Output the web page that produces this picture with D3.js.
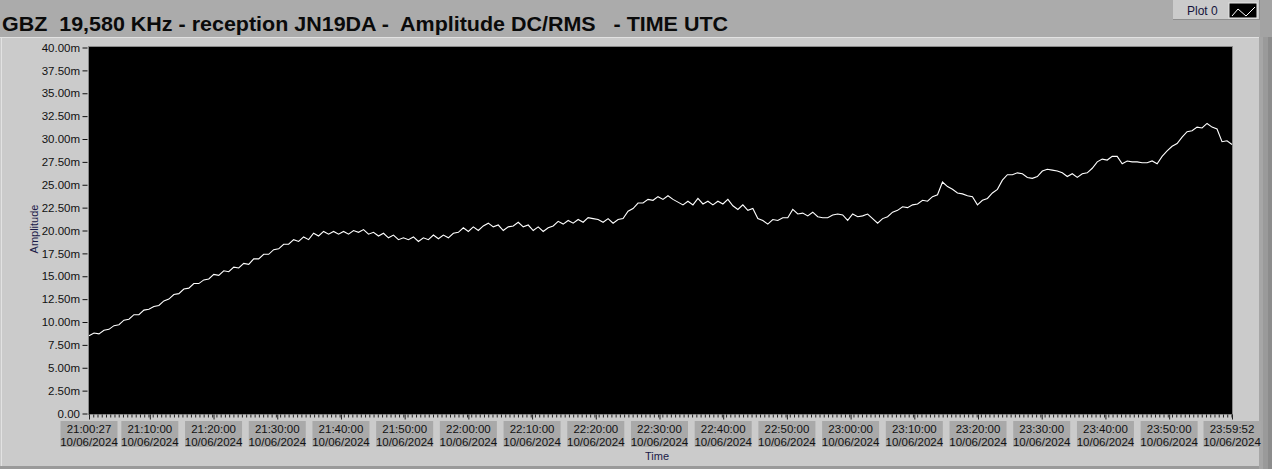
<!DOCTYPE html>
<html>
<head>
<meta charset="utf-8">
<script src="https://cdn.jsdelivr.net/npm/d3@7"></script>
<style>
  html, body { margin: 0; padding: 0; background: #ababab; }
  svg { display: block; }
</style>
</head>
<body>
<svg id="chart" width="1272" height="469"></svg>
<script>
// ---------------- DATA ----------------
const titleText = "GBZ  19,580 KHz - reception JN19DA -  Amplitude DC/RMS   - TIME UTC";
const legendLabel = "Plot 0";
const yAxisTitle = "Amplitude";
const xAxisTitle = "Time";
const startStamp = "2024-06-10T21:00:27";
const endStamp = "2024-06-10T23:59:52";
const dateLabel = "10/06/2024";
const xTickLabels = ["21:00:27","21:10:00","21:20:00","21:30:00","21:40:00","21:50:00",
  "22:00:00","22:10:00","22:20:00","22:30:00","22:40:00","22:50:00",
  "23:00:00","23:10:00","23:20:00","23:30:00","23:40:00","23:50:00","23:59:52"];
const yTickValues = [0,2.5,5,7.5,10,12.5,15,17.5,20,22.5,25,27.5,30,32.5,35,37.5,40];
// amplitude (mV) — evenly sampled from start to end
const amplitude = [
  8.5,8.8,8.7,9.1,9.2,9.6,9.7,10.2,10.3,10.8,10.8,11.3,11.4,11.7,11.8,12.3,12.5,13.0,13.1,13.6,
  13.7,14.2,14.2,14.6,14.7,15.2,15.1,15.6,15.5,16.0,15.9,16.4,16.3,16.9,16.9,17.4,17.4,17.9,18.0,18.5,
  18.5,19.0,18.8,19.3,19.0,19.7,19.4,19.9,19.6,19.9,19.6,19.9,19.6,20.0,19.8,20.1,19.6,19.8,19.4,19.7,
  19.2,19.5,19.0,19.2,19.0,19.3,18.8,19.2,19.0,19.5,19.1,19.5,19.2,19.7,19.8,20.3,19.9,20.4,20.0,20.5,
  20.8,20.4,20.6,20.0,20.4,20.5,20.9,20.4,20.6,20.0,20.4,19.9,20.3,20.5,21.0,20.7,21.1,20.8,21.2,20.9,
  21.4,21.3,21.2,20.9,21.3,20.8,21.2,21.3,22.1,22.4,23.0,23.0,23.4,23.3,23.7,23.4,23.8,23.4,23.1,22.8,
  23.2,22.8,23.5,22.9,23.2,22.8,23.2,22.9,23.4,22.7,22.3,22.8,22.2,22.4,21.3,21.1,20.7,21.2,21.1,21.4,
  21.4,22.3,21.8,21.9,21.6,22.0,21.5,21.4,21.4,21.7,21.8,21.7,21.1,21.8,21.5,21.6,21.8,21.3,20.8,21.3,
  21.5,22.0,22.2,22.6,22.5,22.8,22.9,23.3,23.2,23.7,23.9,25.3,24.8,24.5,24.1,24.0,23.8,23.7,22.8,23.3,
  23.5,24.1,24.5,25.5,26.1,26.1,26.3,26.2,25.8,25.7,25.9,26.5,26.7,26.6,26.5,26.3,25.9,26.2,25.8,26.2,
  26.3,26.8,27.5,27.8,27.7,28.1,28.1,27.3,27.6,27.5,27.5,27.4,27.4,27.6,27.3,28.1,28.7,29.2,29.5,30.2,
  30.8,30.9,31.3,31.2,31.7,31.3,31.1,29.7,29.8,29.4
];

// ---------------- LAYOUT ----------------
const W = 1272, H = 469;
const plot = { left: 89, right: 1232, top: 47, bottom: 414 };
const svg = d3.select("#chart");
const fontAxis = "'Liberation Sans', Arial, sans-serif";

const parse = d3.timeParse("%Y-%m-%dT%H:%M:%S");
const t0 = parse(startStamp), t1 = parse(endStamp);
const totalMs = t1 - t0;
const dtMs = totalMs / (amplitude.length - 1);
const series = amplitude.map((v, i) => ({ t: new Date(+t0 + i * dtMs), v }));

const x = d3.scaleTime().domain([t0, t1]).range([plot.left, plot.right]);
const y = d3.scaleLinear().domain([0, 40]).range([plot.bottom - 0.5, plot.top + 0.5]);

// backgrounds
svg.append("rect").attr("x", 0).attr("y", 0).attr("width", W).attr("height", H).attr("fill", "#ababab");
svg.append("rect").attr("x", 0).attr("y", 37).attr("width", 1259).attr("height", 429).attr("fill", "#cbcbcb");
svg.append("line").attr("x1", 0).attr("x2", 1259).attr("y1", 37.5).attr("y2", 37.5).attr("stroke", "#e2e2e2");
svg.append("line").attr("x1", 1.5).attr("x2", 1.5).attr("y1", 37).attr("y2", 466).attr("stroke", "#e2e2e2");
// right edge strips
svg.append("rect").attr("x", 1259).attr("y", 37).attr("width", 4).attr("height", 432).attr("fill", "#a6a6a6");
svg.append("rect").attr("x", 1263).attr("y", 37).attr("width", 5).attr("height", 432).attr("fill", "#9a9a9a");
svg.append("rect").attr("x", 1268).attr("y", 37).attr("width", 4).attr("height", 432).attr("fill", "#8c8c8c");
svg.append("rect").attr("x", 0).attr("y", 466).attr("width", 1259).attr("height", 3).attr("fill", "#9a9a9a");

// title
svg.append("text")
  .attr("x", 2).attr("y", 31)
  .attr("textLength", 726).attr("lengthAdjust", "spacingAndGlyphs")
  .style("white-space", "pre")
  .attr("font-family", "'Liberation Sans', Arial, sans-serif")
  .attr("font-weight", "bold").attr("font-size", 19.5)
  .attr("fill", "#0a0a0a")
  .text(titleText);

// legend
const lg = svg.append("g");
lg.append("rect").attr("x", 1173).attr("y", 0).attr("width", 87).attr("height", 20).attr("fill", "#cbcbcb");
lg.append("line").attr("x1", 1173).attr("x2", 1260).attr("y1", 19.5).attr("y2", 19.5).attr("stroke", "#8e8e8e");
lg.append("line").attr("x1", 1259.5).attr("x2", 1259.5).attr("y1", 0).attr("y2", 20).attr("stroke", "#8e8e8e");
lg.append("rect").attr("x", 1260).attr("y", 0).attr("width", 12).attr("height", 37).attr("fill", "#a3a3a3");
lg.append("text").attr("x", 1187).attr("y", 14.5)
  .attr("font-family", fontAxis).attr("font-size", 12).attr("fill", "#14143c").text(legendLabel);
lg.append("rect").attr("x", 1229).attr("y", 3).attr("width", 28).attr("height", 15)
  .attr("fill", "#000").attr("stroke", "#e8e8e8").attr("stroke-width", 1);
lg.append("path").attr("d", d3.line()([[1232, 16], [1238, 9], [1246, 16], [1255, 7]]))
  .attr("fill", "none").attr("stroke", "#fff").attr("stroke-width", 1);

// plot area
svg.append("rect").attr("x", plot.left).attr("y", plot.top)
  .attr("width", plot.right - plot.left).attr("height", plot.bottom - plot.top)
  .attr("fill", "#000");
svg.append("rect").attr("x", plot.left - 0.5).attr("y", plot.top - 0.5)
  .attr("width", plot.right - plot.left + 1).attr("height", plot.bottom - plot.top + 1)
  .attr("fill", "none").attr("stroke", "#8a8a8a");

// line
svg.append("path").datum(series)
  .attr("d", d3.line().x(d => x(d.t)).y(d => y(d.v)))
  .attr("fill", "none").attr("stroke", "#ffffff").attr("stroke-width", 1.1)
  .attr("stroke-linejoin", "miter");

// y axis
const yAxis = d3.axisLeft(y).tickValues(yTickValues).tickSize(5).tickPadding(2.5)
  .tickFormat(d => d === 0 ? "0.00" : d3.format(".2f")(d) + "m");
const gy = svg.append("g").attr("transform", "translate(87.5,0)").call(yAxis);
gy.select(".domain").remove();
gy.selectAll(".tick line").attr("stroke", "#111");
gy.selectAll(".tick text").attr("font-family", fontAxis).attr("font-size", 11.5).attr("fill", "#111");

svg.append("text")
  .attr("transform", "translate(38,229) rotate(-90)")
  .attr("text-anchor", "middle")
  .attr("font-family", fontAxis).attr("font-size", 11).attr("fill", "#1a1a48")
  .text(yAxisTitle);

// x axis: minor ticks
const minorTimes = d3.range(0, totalMs + 1, 40000).map(ms => new Date(+t0 + ms));
const gxMinor = svg.append("g").attr("transform", `translate(0,${plot.bottom + 0.5})`)
  .call(d3.axisBottom(x).tickValues(minorTimes).tickSize(3).tickFormat(""));
gxMinor.select(".domain").remove();
gxMinor.selectAll(".tick line").attr("stroke", "#222");

// major ticks
const hms = d3.timeParse("%Y-%m-%d %H:%M:%S");
const majorTimes = xTickLabels.map(s => hms("2024-06-10 " + s));
const gxMajor = svg.append("g").attr("transform", `translate(0,${plot.bottom + 0.5})`)
  .call(d3.axisBottom(x).tickValues(majorTimes).tickSize(5).tickFormat(""));
gxMajor.select(".domain").remove();
gxMajor.selectAll(".tick line").attr("stroke", "#222");

// tick label boxes
const lab = svg.append("g").selectAll("g").data(majorTimes).join("g")
  .attr("transform", d => `translate(${x(d)},0)`);
lab.append("rect").attr("x", -28.5).attr("y", 421).attr("width", 57).attr("height", 26).attr("fill", "#a9a9a9");
lab.append("text").attr("y", 432.5).attr("text-anchor", "middle")
  .attr("font-family", fontAxis).attr("font-size", 11.5).attr("fill", "#111")
  .text((d, i) => xTickLabels[i]);
lab.append("text").attr("y", 445.5).attr("text-anchor", "middle")
  .attr("font-family", fontAxis).attr("font-size", 11.5).attr("fill", "#111")
  .text(dateLabel);

svg.append("text").attr("x", 657).attr("y", 460).attr("text-anchor", "middle")
  .attr("font-family", fontAxis).attr("font-size", 11).attr("fill", "#1a1a48")
  .text(xAxisTitle);
</script>
</body>
</html>
